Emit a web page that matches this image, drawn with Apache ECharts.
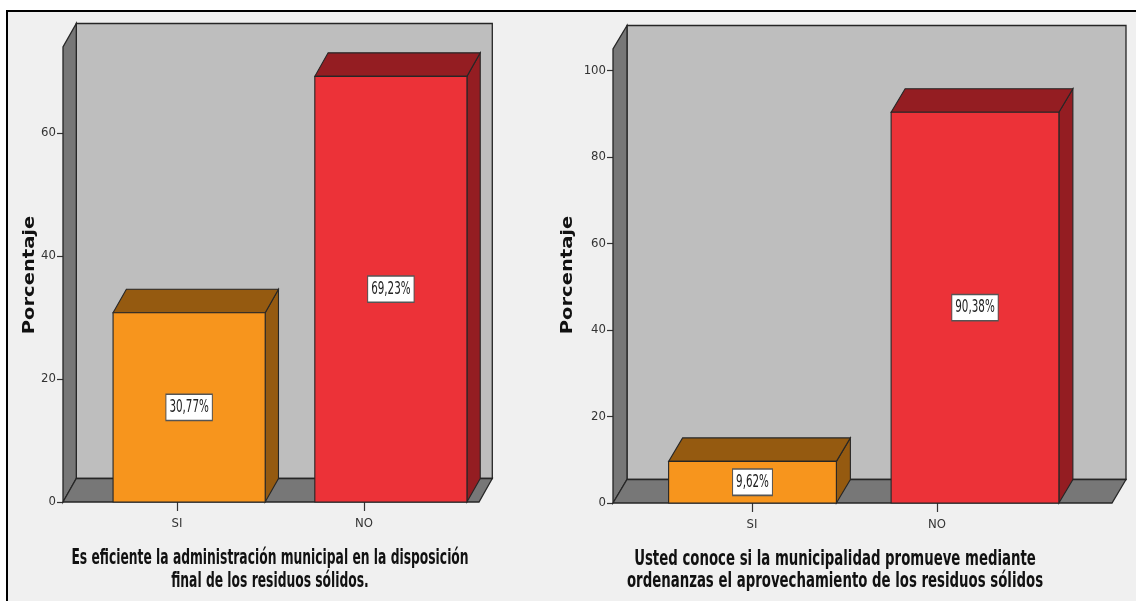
<!DOCTYPE html>
<html>
<head>
<meta charset="utf-8">
<script src="https://cdn.jsdelivr.net/npm/echarts@6/dist/echarts.min.js"></script>
<style>
  html, body { margin: 0; padding: 0; background: #ffffff; }
  #frame {
    position: absolute; left: 6px; top: 10px; width: 1130px; height: 591px;
    box-sizing: border-box; border-left: 2px solid #000; border-top: 2px solid #000;
    background: #f0f0f0;
  }
  #chart { position: absolute; left: 0; top: 0; width: 1136px; height: 601px; }
</style>
</head>
<body>
<div id="frame"></div>
<div id="chart"></div>
<script>
// ---- data ----
const categories = ['SI', 'NO'];
const eficienciaPct = [30.77, 69.23];
const ordenanzasPct = [9.62, 90.38];
const eficienciaTicks = [0, 20, 40, 60];
const ordenanzasTicks = [0, 20, 40, 60, 80, 100];
const eficienciaTitle = ['Es eficiente la administración municipal en la disposición', 'final de los residuos sólidos.'];
const ordenanzasTitle = ['Usted conoce si la municipalidad promueve mediante', 'ordenanzas el aprovechamiento de los residuos sólidos'];
const yAxisName = 'Porcentaje';

// ---- styling ----
const WALL_BACK = '#bebebe';
const WALL_SIDE = '#777777';
const EDGE = '#262626';
const BAR_COLORS = [
  { face: '#f7951d', shade: '#955a10' },
  { face: '#ec3238', shade: '#941d22' }
];
const COND = '"DejaVu Sans Condensed", "DejaVu Sans", sans-serif';
const BAR_FRAC = 0.754;

// layout of the two panels (pixels)
const panels = [
  {
    values: eficienciaPct, ticks: eficienciaTicks, yMax: 74, title: eficienciaTitle,
    top: 47, bottom: 99, depth: [13.3, -23.5],
    titleX: 270, titleFont: 13.7, titleScale: 1.5, nameX: 30,
    wall: { left: 63, right: 1136 - 479 },
    bars: { left: 88.25, right: 1136 - 491.75 },
    axis: { left: 83.5, right: 1136 - 457.5 }
  },
  {
    values: ordenanzasPct, ticks: ordenanzasTicks, yMax: 105, title: ordenanzasTitle,
    top: 49, bottom: 98, depth: [14, -23.5],
    titleX: 835, titleFont: 14.8, titleScale: 1.39, nameX: 568,
    wall: { left: 613, right: 1136 - 1112 },
    bars: { left: 641.25, right: 1136 - 1086.25 },
    axis: { left: 659.5, right: 1136 - 1029.5 }
  }
];

function pctLabel(v) {
  return v.toFixed(2).replace('.', ',') + '%';
}

// box frame: back wall, left wall and floor, drawn from the grid rectangle
function renderFrame(depth) {
  return function (params) {
    const r = params.coordSys;
    const dx = depth[0], dy = depth[1];
    const x0 = r.x, x1 = r.x + r.width, yt = r.y, yb = r.y + r.height;
    const st = (fill) => ({ fill: fill, stroke: EDGE, lineWidth: 1.3 });
    return {
      type: 'group',
      children: [
        { type: 'rect', shape: { x: x0 + dx, y: yt + dy, width: r.width, height: r.height }, style: st(WALL_BACK) },
        { type: 'polygon', shape: { points: [[x0, yb], [x0, yt], [x0 + dx, yt + dy], [x0 + dx, yb + dy]] }, style: st(WALL_SIDE) },
        { type: 'polygon', shape: { points: [[x0, yb], [x1, yb], [x1 + dx, yb + dy], [x0 + dx, yb + dy]] }, style: st(WALL_SIDE) }
      ]
    };
  };
}

// 3D bar: front face, top face, right side face and value label
function renderBars(depth) {
  return function (params, api) {
    const i = api.value(0), v = api.value(1);
    const top = api.coord([i, v]);
    const base = api.coord([i, 0]);
    const w = api.size([1, 0])[0] * BAR_FRAC;
    const xl = top[0] - w / 2, xr = xl + w;
    const dx = depth[0], dy = depth[1];
    const c = BAR_COLORS[i];
    const st = (fill) => ({ fill: fill, stroke: EDGE, lineWidth: 1.1 });
    return {
      type: 'group',
      children: [
        { type: 'polygon', shape: { points: [[xr, top[1]], [xr, base[1]], [xr + dx, base[1] + dy], [xr + dx, top[1] + dy]] }, style: st(c.shade) },
        { type: 'polygon', shape: { points: [[xl, top[1]], [xr, top[1]], [xr + dx, top[1] + dy], [xl + dx, top[1] + dy]] }, style: st(c.shade) },
        { type: 'rect', shape: { x: xl, y: top[1], width: w, height: base[1] - top[1] }, style: st(c.face) },
        {
          type: 'text', x: top[0], y: (top[1] + base[1]) / 2, scaleY: 1.55,
          style: {
            text: pctLabel(v), align: 'center', verticalAlign: 'middle',
            font: '11.5px ' + COND, fill: '#222',
            backgroundColor: '#ffffff', borderColor: '#555', borderWidth: 1,
            padding: [2, 3, 2, 3]
          }
        }
      ]
    };
  };
}

const grid = [], xAxis = [], yAxis = [], series = [], graphic = [];

panels.forEach(function (p) {
  const g0 = grid.length;
  [p.wall, p.bars, p.axis].forEach(function (h) {
    grid.push({ left: h.left, right: h.right, top: p.top, bottom: p.bottom, containLabel: false });
  });
  // wall grid: carries the visible value axis
  xAxis.push({ gridIndex: g0, type: 'category', data: categories, show: false });
  yAxis.push({
    gridIndex: g0, type: 'value', min: 0, max: p.yMax,
    axisLine: { show: false },
    axisTick: { show: true, length: 6, customValues: p.ticks, lineStyle: { color: '#333', width: 1.2 } },
    axisLabel: { customValues: p.ticks, margin: 7, color: '#333', fontFamily: COND, fontSize: 13 },
    splitLine: { show: false }
  });
  // bar grid
  xAxis.push({ gridIndex: g0 + 1, type: 'category', data: categories, show: false });
  yAxis.push({ gridIndex: g0 + 1, type: 'value', min: 0, max: p.yMax, show: false });
  // category axis grid
  xAxis.push({
    gridIndex: g0 + 2, type: 'category', data: categories,
    axisLine: { show: false },
    axisTick: { show: true, alignWithLabel: true, length: 9, lineStyle: { color: '#333', width: 1.2 } },
    axisLabel: { margin: 15, color: '#333', fontFamily: COND, fontSize: 13 }
  });
  yAxis.push({ gridIndex: g0 + 2, type: 'value', min: 0, max: p.yMax, show: false });

  series.push({
    type: 'custom', xAxisIndex: g0, yAxisIndex: g0, clip: false, silent: true, z: 1,
    data: [[0, 0]], renderItem: renderFrame(p.depth)
  });
  series.push({
    type: 'custom', xAxisIndex: g0 + 1, yAxisIndex: g0 + 1, clip: false, silent: true, z: 2,
    data: p.values.map(function (v, i) { return [i, v]; }),
    renderItem: renderBars(p.depth)
  });

  // value axis name, written bottom-to-top
  graphic.push({
    type: 'text', x: p.nameX, y: 275, rotation: Math.PI / 2, scaleX: 1.22,
    style: {
      text: yAxisName, align: 'center', verticalAlign: 'middle',
      font: 'bold 16px "DejaVu Sans", sans-serif', fill: '#111'
    }
  });
  // category axis title (two lines)
  graphic.push({
    type: 'text', x: p.titleX, y: 570.5, scaleY: p.titleScale,
    style: {
      text: p.title.join('\n'), align: 'center', verticalAlign: 'middle',
      font: 'bold ' + p.titleFont + 'px ' + COND, lineHeight: 22.7 / p.titleScale, fill: '#111'
    }
  });
});

const chart = echarts.init(document.getElementById('chart'), null, { renderer: 'canvas' });
chart.setOption({
  backgroundColor: 'transparent',
  animation: false,
  grid: grid, xAxis: xAxis, yAxis: yAxis, series: series, graphic: graphic
});
</script>
</body>
</html>
